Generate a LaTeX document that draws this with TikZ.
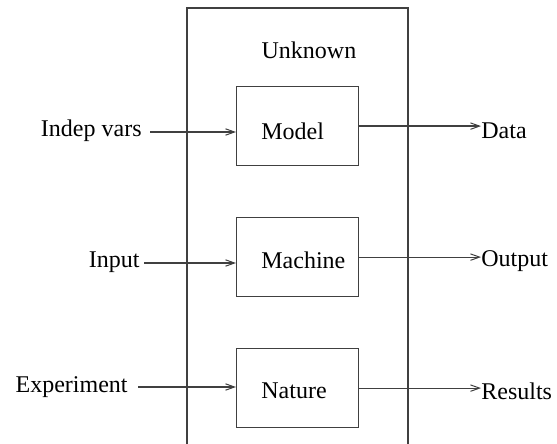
\documentclass[tikz,border=0pt]{standalone}
\usepackage{fontspec}
\setmainfont{Liberation Serif}
\usetikzlibrary{arrows.meta}
\begin{document}
\begin{tikzpicture}[x=0.5pt,y=-0.5pt,
  ln/.style={draw=black!75,line width=0.6pt},
  arr/.style={ln,-{Straight Barb[length=4.5pt,width=3.2pt,line width=0.5pt]}},
  boxnode/.style={ln,minimum width=61pt,minimum height=39.5pt,inner sep=0pt,anchor=north west},
  lbl/.style={inner sep=0pt,font=\fontsize{12pt}{14pt}\selectfont}]
\useasboundingbox (0,0) rectangle (557,444);
% outer frame (cut at the bottom)
\coordinate (fbl) at (187,444);
\coordinate (ftl) at (187,8);
\coordinate (ftr) at (408,8);
\coordinate (fbr) at (408,444);
\draw[ln] (fbl) -- (ftl) -- (ftr) -- (fbr);
\node[lbl] (unknown) at (309,50) {Unknown};
% inner boxes
\node[boxnode] (model) at (236,86) {};
\node[boxnode] (machine) at (236,217) {};
\node[boxnode] (nature) at (236,348) {};
\node[lbl,anchor=west] (modelt) at (261,131) {Model};
\node[lbl,anchor=west] (machinet) at (261,260) {Machine};
\node[lbl,anchor=west] (naturet) at (261,391) {Nature};
% inputs
\node[lbl,anchor=east] (indep) at (142,131) {Indep vars};
\node[lbl,anchor=east] (input) at (140,262) {Input};
\node[lbl,anchor=east] (experiment) at (128,387) {Experiment};
\coordinate (indeps) at (150,132);
\coordinate (inputs) at (144,263);
\coordinate (experiments) at (138,387);
\draw[arr] (indeps) -- (indeps -| model.west);
\draw[arr] (inputs) -- (inputs -| machine.west);
\draw[arr] (experiments) -- (experiments -| nature.west);
% outputs
\node[lbl,anchor=west] (data) at (481,131) {Data};
\node[lbl,anchor=west] (output) at (481,261) {Output};
\node[lbl,anchor=west] (results) at (481,391) {Results};
\draw[arr] (model.east) -- (model.east -| data.west);
\draw[arr] (machine.east) -- (machine.east -| output.west);
\draw[arr] (nature.east) -- (nature.east -| results.west);
\end{tikzpicture}
\end{document}
